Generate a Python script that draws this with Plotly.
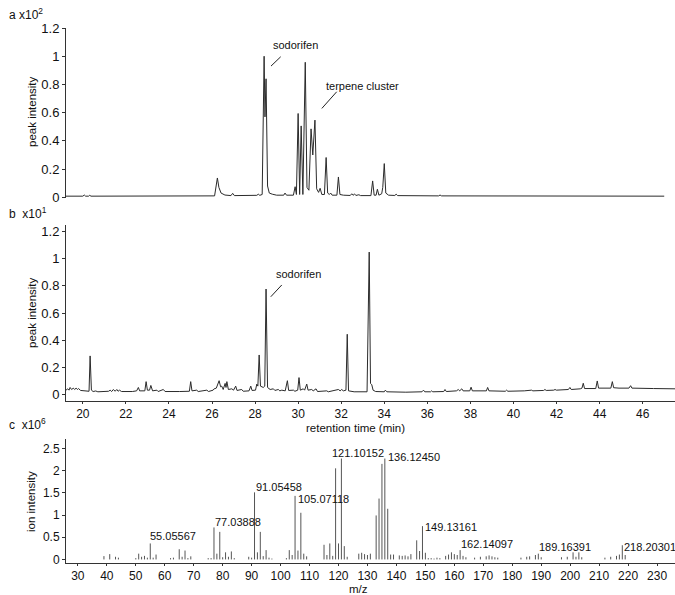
import plotly.graph_objects as go

# ---------------- data ----------------
# panel a: chromatogram (retention time in min, peak intensity x10^2)
a_time = [19.22, 20.00, 20.07, 20.13, 20.27, 20.32, 20.38, 26.12, 26.25, 26.32, 26.42, 26.60,
          26.88, 26.96, 27.04, 27.90, 28.08, 28.15, 28.22, 28.33, 28.42, 28.46, 28.51, 28.58,
          28.66, 28.80, 29.00, 29.33, 29.39, 29.46, 29.78, 29.86, 29.92, 30.00, 30.07, 30.14,
          30.22, 30.33, 30.41, 30.50, 30.60, 30.68, 30.78, 30.86, 30.95, 31.02, 31.10, 31.22,
          31.30, 31.37, 31.45, 31.51, 31.58, 31.80, 31.87, 31.94, 32.10, 32.42, 32.49, 32.55,
          32.62, 32.68, 32.82, 32.90, 33.38, 33.46, 33.53, 33.62, 33.68, 33.75, 33.88, 33.93,
          34.00, 34.07, 34.20, 34.49, 34.55, 34.62, 35.24, 35.29, 35.35, 36.52, 36.59, 36.66,
          47.00]
a_intensity = [0.008, 0.008, 0.016, 0.008, 0.008, 0.014, 0.008, 0.010, 0.137, 0.070, 0.030, 0.016,
               0.012, 0.028, 0.012, 0.010, 0.014, 0.022, 0.014, 0.020, 1.000, 0.570, 0.840, 0.080,
               0.030, 0.022, 0.015, 0.015, 0.030, 0.015, 0.015, 0.075, 0.020, 0.594, 0.020, 0.506,
               0.020, 0.957, 0.070, 0.050, 0.485, 0.300, 0.547, 0.060, 0.035, 0.064, 0.020, 0.020,
               0.282, 0.030, 0.020, 0.030, 0.015, 0.015, 0.144, 0.020, 0.015, 0.013, 0.025, 0.014,
               0.024, 0.013, 0.018, 0.012, 0.012, 0.116, 0.015, 0.015, 0.057, 0.015, 0.025, 0.070,
               0.239, 0.030, 0.015, 0.013, 0.022, 0.012, 0.010, 0.015, 0.010, 0.010, 0.016, 0.010,
               0.008]

# panel b: chromatogram (retention time in min, peak intensity x10^1)
b_time = [19.22, 19.30, 19.36, 19.41, 19.48, 19.56, 19.62, 19.69, 19.75, 19.80, 19.90, 20.05,
          20.29, 20.34, 20.40, 20.48, 20.60, 20.70, 21.00, 21.20, 21.27, 21.34, 21.42, 21.50,
          21.58, 21.64, 21.70, 21.80, 22.30, 22.50, 22.58, 22.64, 22.88, 22.94, 23.00, 23.10,
          23.16, 23.24, 23.44, 23.50, 23.74, 23.82, 24.50, 24.95, 25.01, 25.07, 25.29, 25.36,
          25.76, 25.84, 26.05, 26.10, 26.20, 26.33, 26.40, 26.45, 26.52, 26.61, 26.65, 26.69,
          26.76, 26.92, 27.00, 27.10, 27.16, 27.38, 27.45, 27.72, 27.80, 27.86, 28.02, 28.08,
          28.13, 28.19, 28.25, 28.38, 28.45, 28.51, 28.58, 28.70, 28.85, 28.92, 29.08, 29.15,
          29.24, 29.40, 29.50, 29.56, 29.78, 29.85, 29.98, 30.04, 30.10, 30.24, 30.30, 30.40,
          30.46, 30.63, 30.70, 30.83, 30.90, 31.33, 31.40, 31.87, 31.95, 32.02, 32.10, 32.22,
          32.28, 32.34, 32.60, 33.20, 33.30, 33.36, 33.42, 33.48, 33.60, 34.00, 34.05, 34.12,
          35.00, 35.75, 35.82, 35.88, 36.15, 36.20, 36.25, 36.76, 36.82, 36.88, 37.35, 37.44,
          37.50, 37.60, 37.66, 37.97, 38.03, 38.09, 38.74, 38.80, 38.86, 39.20, 39.62, 39.68,
          39.74, 40.50, 40.84, 40.90, 41.40, 41.46, 41.52, 41.87, 41.93, 41.99, 42.55, 42.62,
          42.68, 43.10, 43.18, 43.24, 43.30, 43.82, 43.89, 43.95, 44.30, 44.52, 44.59, 44.65,
          44.90, 45.36, 45.44, 45.50, 46.50, 47.50]
b_intensity = [0.030, 0.040, 0.030, 0.050, 0.035, 0.045, 0.035, 0.045, 0.035, 0.042, 0.028, 0.025,
               0.022, 0.283, 0.030, 0.020, 0.024, 0.018, 0.020, 0.022, 0.030, 0.020, 0.035, 0.022,
               0.035, 0.022, 0.030, 0.020, 0.020, 0.025, 0.050, 0.025, 0.025, 0.093, 0.030, 0.030,
               0.065, 0.025, 0.030, 0.020, 0.035, 0.020, 0.020, 0.022, 0.093, 0.025, 0.030, 0.020,
               0.030, 0.020, 0.030, 0.040, 0.045, 0.100, 0.055, 0.060, 0.035, 0.080, 0.050, 0.093,
               0.035, 0.040, 0.030, 0.060, 0.028, 0.035, 0.022, 0.025, 0.060, 0.028, 0.030, 0.075,
               0.060, 0.290, 0.060, 0.050, 0.060, 0.777, 0.050, 0.035, 0.040, 0.028, 0.035, 0.025,
               0.030, 0.025, 0.100, 0.028, 0.030, 0.022, 0.030, 0.123, 0.030, 0.040, 0.030, 0.075,
               0.030, 0.035, 0.025, 0.040, 0.020, 0.025, 0.018, 0.035, 0.025, 0.035, 0.025, 0.030,
               0.443, 0.025, 0.018, 0.018, 1.050, 0.080, 0.070, 0.030, 0.020, 0.018, 0.030, 0.018,
               0.015, 0.018, 0.030, 0.018, 0.018, 0.025, 0.018, 0.020, 0.035, 0.020, 0.025, 0.035,
               0.025, 0.040, 0.025, 0.025, 0.052, 0.025, 0.025, 0.050, 0.025, 0.022, 0.022, 0.030,
               0.022, 0.025, 0.030, 0.025, 0.028, 0.035, 0.028, 0.030, 0.035, 0.030, 0.035, 0.050,
               0.035, 0.040, 0.045, 0.081, 0.042, 0.042, 0.098, 0.045, 0.045, 0.045, 0.093, 0.048,
               0.045, 0.045, 0.063, 0.045, 0.042, 0.040]

# panel c: mass spectrum (m/z, ion intensity x10^6)
ms_mz = [39, 41, 43, 44, 50, 51, 52, 53, 54, 55, 56, 57, 62, 63, 65, 66, 67, 68, 69, 75, 76,
         77, 78, 79, 80, 81, 82, 83, 84, 89, 90, 91, 92, 93, 94, 95, 96, 97, 102, 103, 104,
         105, 106, 107, 108, 109, 115, 116, 117, 118, 119, 120, 121, 122, 123, 127, 128, 129,
         130, 131, 133, 134, 135, 136, 137, 138, 139, 141, 142, 143, 144, 145, 147, 148, 149,
         150, 151, 152, 153, 154, 155, 157, 158, 159, 160, 161, 162, 163, 164, 167, 169, 171,
         172, 173, 174, 175, 183, 185, 186, 188, 189, 190, 197, 199, 201, 202, 203, 204, 212,
         214, 216, 217, 218, 219]
ms_intensity = [0.075, 0.12, 0.06, 0.04, 0.03, 0.13, 0.06, 0.08, 0.04, 0.36, 0.04, 0.11, 0.03,
                0.04, 0.23, 0.06, 0.20, 0.03, 0.07, 0.03, 0.03, 0.72, 0.13, 0.62, 0.05, 0.16,
                0.06, 0.18, 0.03, 0.06, 0.04, 1.51, 0.16, 0.62, 0.075, 0.21, 0.04, 0.02, 0.03,
                0.21, 0.10, 1.43, 0.20, 1.05, 0.13, 0.07, 0.33, 0.10, 0.36, 0.08, 2.05, 0.36,
                2.27, 0.30, 0.06, 0.13, 0.15, 0.12, 0.10, 0.13, 0.99, 1.37, 2.15, 2.27, 1.14,
                0.11, 0.11, 0.09, 0.08, 0.09, 0.07, 0.12, 0.43, 0.19, 0.75, 0.15, 0.03, 0.03,
                0.02, 0.04, 0.03, 0.08, 0.11, 0.16, 0.12, 0.10, 0.21, 0.08, 0.05, 0.04, 0.06,
                0.07, 0.09, 0.07, 0.05, 0.04, 0.04, 0.06, 0.07, 0.10, 0.13, 0.05, 0.05, 0.06,
                0.16, 0.06, 0.16, 0.05, 0.04, 0.06, 0.08, 0.11, 0.32, 0.10]

# labelled ions in panel c
label_mz = [55, 77, 91, 105, 121, 136, 149, 162, 189, 218]
label_text = ["55.05567", "77.03888", "91.05458", "105.07118", "121.10152",
              "136.12450", "149.13161", "162.14097", "189.16391", "218.20301"]

# tick values
rt_ticks = [20, 22, 24, 26, 28, 30, 32, 34, 36, 38, 40, 42, 44, 46]
peak_ticks = [0, 0.2, 0.4, 0.6, 0.8, 1.0, 1.2]
mz_ticks = list(range(30, 231, 10))
ion_ticks = [0, 0.5, 1, 1.5, 2, 2.5]

# ---------------- styles / layout helpers ----------------
W, H = 675, 595
FONT = "Liberation Sans, Arial, sans-serif"
LINE = "#2b2b2b"
AX = "#333333"


def fx(p):
    return p / W


def fy(p):
    return (H - p) / H


label_shift = [(-2, 7), (-1, 5), (-1, 5), (1, -3), (-11, 6),
               (1, 2), (1, -1), (-1, 6), (-1, 7), (0, -2)]

fig = go.Figure()
fig.add_trace(go.Scatter(x=a_time, y=a_intensity, mode="lines",
                         line=dict(color=LINE, width=1), xaxis="x", yaxis="y",
                         hoverinfo="skip", showlegend=False))
fig.add_trace(go.Scatter(x=b_time, y=b_intensity, mode="lines",
                         line=dict(color=LINE, width=1), xaxis="x2", yaxis="y2",
                         hoverinfo="skip", showlegend=False))
sx, sy = [], []
for m, v in zip(ms_mz, ms_intensity):
    sx += [m, m, None]
    sy += [0, v, None]
fig.add_trace(go.Scatter(x=sx, y=sy, mode="lines",
                         line=dict(color="#555555", width=1), xaxis="x3", yaxis="y3",
                         hoverinfo="skip", showlegend=False))

xdom = [fx(66), 1.0]
common_y = dict(showline=True, linecolor=AX, linewidth=1, ticks="outside", ticklen=3,
                tickcolor=AX, showgrid=False, zeroline=False, automargin=False,
                tickfont=dict(family=FONT, size=13, color="#111"))
common_x = dict(showline=True, linecolor=AX, linewidth=1, ticks="outside", ticklen=2,
                tickcolor=AX, showgrid=False, zeroline=False, automargin=False,
                tickfont=dict(family=FONT, size=12, color="#111"))

fig.update_layout(
    width=W, height=H, template="none",
    paper_bgcolor="white", plot_bgcolor="white",
    margin=dict(l=0, r=0, t=0, b=0),
    showlegend=False,
    font=dict(family=FONT, color="#111"),
    xaxis=dict(domain=xdom, range=[19.22, 47.5], visible=False, anchor="y"),
    yaxis=dict(domain=[fy(198), fy(28)], range=[-0.005, 1.2], tickvals=peak_ticks,
               anchor="x", **common_y),
    xaxis2=dict(domain=xdom, range=[19.22, 47.5], tickvals=rt_ticks, anchor="y2", **common_x),
    yaxis2=dict(domain=[fy(401), fy(225)], range=[-0.05, 1.25], tickvals=peak_ticks,
                anchor="x2", **common_y),
    xaxis3=dict(domain=xdom, range=[25.9, 236.2], tickvals=mz_ticks, anchor="y3", **common_x),
    yaxis3=dict(domain=[fy(563), fy(439)], range=[-0.08, 2.71], tickvals=ion_ticks,
                anchor="x3", **{**common_y, "tickfont": dict(family=FONT, size=12, color="#111")}),
)

ann = []
# panel letters with multipliers
for txt, yy in [("a x10<sup>2</sup>", 14), ("b\u00a0 x10<sup>1</sup>", 213),
                ("c\u00a0 x10<sup>6</sup>", 424)]:
    ann.append(dict(text=txt, xref="paper", yref="paper", x=fx(7), y=fy(yy),
                    xanchor="left", yanchor="middle", showarrow=False,
                    font=dict(family=FONT, size=12, color="#111")))
# axis titles
for txt, xx, yy in [("peak intensity", 32, 112), ("peak intensity", 32, 313),
                    ("ion intensity", 31, 502)]:
    ann.append(dict(text=txt, xref="paper", yref="paper", x=fx(xx), y=fy(yy),
                    xanchor="center", yanchor="middle", textangle=-90, showarrow=False,
                    font=dict(family=FONT, size=11.5, color="#111")))
for txt, xx, yy in [("retention time (min)", 355, 428), ("m/z", 358, 589)]:
    ann.append(dict(text=txt, xref="paper", yref="paper", x=fx(xx), y=fy(yy),
                    xanchor="center", yanchor="middle", showarrow=False,
                    font=dict(family=FONT, size=11.5, color="#111")))
# peak annotations
ann.append(dict(text="sodorifen", xref="x", yref="y", x=29.87, y=1.08, showarrow=False,
                font=dict(family=FONT, size=11, color="#111")))
ann.append(dict(text="terpene cluster", xref="x", yref="y", x=33.0, y=0.79, showarrow=False,
                font=dict(family=FONT, size=11, color="#111")))
ann.append(dict(text="sodorifen", xref="x2", yref="y2", x=30.01, y=0.886, showarrow=False,
                font=dict(family=FONT, size=11, color="#111")))
# ion labels
for m, t, (dx, dy) in zip(label_mz, label_text, label_shift):
    v = ms_intensity[ms_mz.index(m)]
    ann.append(dict(text=t, xref="x3", yref="y3", x=m, y=v, xanchor="left",
                    yanchor="middle", xshift=dx, yshift=dy, showarrow=False,
                    font=dict(family=FONT, size=11, color="#111")))
fig.update_layout(annotations=ann)

shapes = [
    dict(type="line", xref="x", yref="y", x0=28.74, y0=0.93, x1=29.19, y1=0.996,
         line=dict(color="#222", width=1)),
    dict(type="line", xref="x", yref="y", x0=31.10, y0=0.63, x1=31.79, y1=0.748,
         line=dict(color="#222", width=1)),
    dict(type="line", xref="x2", yref="y2", x0=28.73, y0=0.72, x1=29.24, y1=0.807,
         line=dict(color="#222", width=1)),
]
fig.update_layout(shapes=shapes)

fig.write_html("out.html", config={"displayModeBar": False},
               post_script="document.body.style.margin='0';document.body.style.padding='0';")
